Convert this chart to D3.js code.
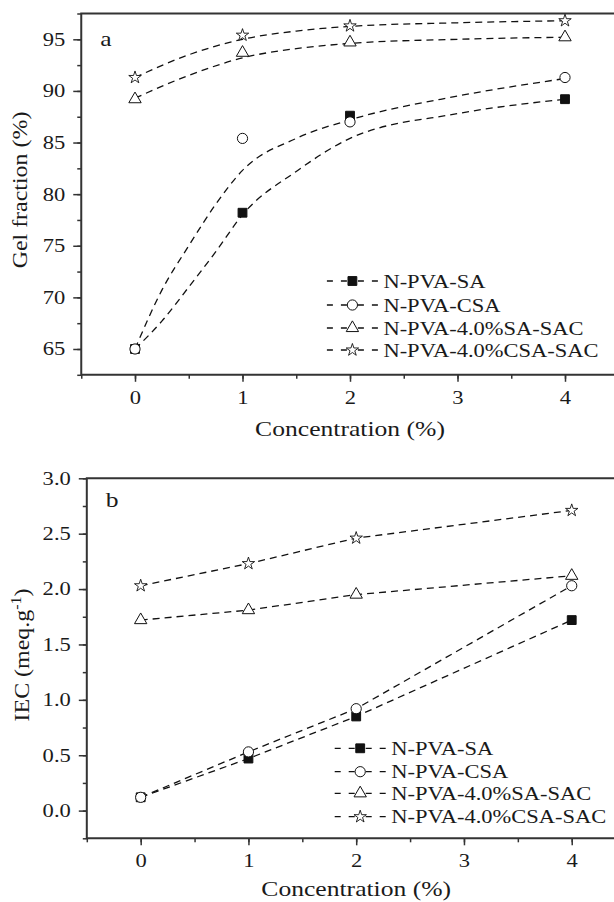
<!DOCTYPE html>
<html lang="en">
<head>
<meta charset="utf-8">
<script src="https://d3js.org/d3.v7.min.js"></script>
<style>
body { margin: 0; background: #fff; }
text { font-family: "Liberation Serif", "Times New Roman", serif; fill: #1a1a1a; }
</style>
</head>
<body>
<script>

// ---- data ----
var concentration = [0, 1, 2, 4];
var seriesNames = ["N-PVA-SA", "N-PVA-CSA", "N-PVA-4.0%SA-SAC", "N-PVA-4.0%CSA-SAC"];
var symbols = ["square", "circle", "triangle", "star"];

// (a) gel fraction, %
var gelSA = [65, 78.2, 87.6, 89.2];
var gelCSA = [65, 85.4, 87.0, 91.3];
var gelSASAC = [89.2, 93.7, 94.7, 95.2];
var gelCSASAC = [91.3, 95.4, 96.3, 96.8];

// (a) dashed fitted curves
var fitXSteep = [0, 0.25, 0.5, 0.75, 1, 1.5, 2, 3, 4];
var fitSA = [65, 67.7, 71.0, 74.4, 78.0, 82.2, 85.4, 87.8, 89.2];
var fitCSA = [65, 70.7, 75.0, 79.0, 82.3, 85.4, 87.2, 89.5, 91.2];
var fitXFlat = [0, 0.5, 1, 1.5, 2, 3, 4];
var fitSASAC = [89.3, 91.5, 93.2, 94.1, 94.6, 95.0, 95.2];
var fitCSASAC = [91.3, 93.5, 95.0, 95.8, 96.25, 96.6, 96.8];

// (b) IEC, meq/g
var iecSA = [0.12, 0.47, 0.85, 1.72];
var iecCSA = [0.12, 0.53, 0.92, 2.03];
var iecSASAC = [1.72, 1.81, 1.95, 2.12];
var iecCSASAC = [2.03, 2.23, 2.46, 2.71];

var gelTicks = [65, 70, 75, 80, 85, 90, 95];
var iecTicks = [0, 0.5, 1, 1.5, 2, 2.5, 3];
var xTicks = [0, 1, 2, 3, 4];

// ---- drawing ----
var svg = d3.select("body")
  .append("svg")
  .attr("width", 614)
  .attr("height", 902);

var ink = "#333";
var sx = 1.22;   // the figure's serif is wider than Liberation Serif

function stretchText(g, x, y, str, size, anchor, stretch) {
  return g.append("text")
    .attr("transform", "translate(" + x + "," + y + ") scale(" + (stretch || sx) + ",1)")
    .attr("text-anchor", anchor || "start")
    .attr("font-size", size)
    .text(str);
}

var markSize = {square: 78, circle: 82, triangle: 66, star: 48};

function drawMarker(g, kind, x, y) {
  var t = {square: d3.symbolSquare, circle: d3.symbolCircle,
           triangle: d3.symbolTriangle, star: d3.symbolStar}[kind];
  g.append("path")
    .attr("d", d3.symbol().type(t).size(markSize[kind])())
    .attr("transform", "translate(" + x + "," + y + ")")
    .attr("fill", kind == "square" ? "#111" : "#fff")
    .attr("stroke", "#111")
    .attr("stroke-width", kind == "star" ? 0.9 : 1);
}

function panel(opt) {
  var x = d3.scaleLinear().domain([-0.5, 4.5]).range(opt.xRange);
  var y = d3.scaleLinear().domain(opt.yDomain).range(opt.yRange);
  var g = svg.append("g");

  // minor ticks
  g.append("g")
    .attr("transform", "translate(0," + opt.yRange[0] + ")")
    .call(d3.axisBottom(x).tickValues(d3.range(-0.5, 4.51, 0.5)).tickSize(4).tickFormat(""))
    .call(function (a) { a.select(".domain").remove(); a.selectAll("line").attr("stroke", ink).attr("stroke-width", 1.5); });
  g.append("g")
    .attr("transform", "translate(" + opt.xRange[0] + ",0)")
    .call(d3.axisLeft(y).tickValues(opt.minor).tickSize(4).tickFormat(""))
    .call(function (a) { a.select(".domain").remove(); a.selectAll("line").attr("stroke", ink).attr("stroke-width", 1.5); });

  // major ticks with labels
  var xa = g.append("g")
    .attr("transform", "translate(0," + opt.yRange[0] + ")")
    .call(d3.axisBottom(x).tickValues(xTicks).tickSize(7).tickPadding(opt.xPad).tickFormat(d3.format("d")));
  var ya = g.append("g")
    .attr("transform", "translate(" + opt.xRange[0] + ",0)")
    .call(d3.axisLeft(y).tickValues(opt.ticks).tickSize(8).tickPadding(8).tickFormat(opt.fmt));
  [xa, ya].forEach(function (a) {
    a.select(".domain").remove();
    a.attr("font-family", null).attr("font-size", 18.5);
    a.selectAll("line").attr("stroke", ink).attr("stroke-width", 1.5);
    a.selectAll("text").attr("fill", "#1a1a1a");
  });
  xa.selectAll("text").attr("transform", "scale(" + sx + ",1)");
  ya.selectAll("text").attr("x", -16 / sx).attr("transform", "scale(" + sx + ",1)");

  // frame: left, bottom and top (right side is cut off by the page)
  g.append("path")
    .attr("d", "M" + 614 + "," + opt.yRange[1] + "H" + opt.xRange[0] + "V" + opt.yRange[0] + "H" + 614)
    .attr("fill", "none").attr("stroke", ink).attr("stroke-width", 2);

  // dashed lines
  var line = d3.line().x(function (d) { return x(d[0]); }).y(function (d) { return y(d[1]); })
    .curve(opt.curve);
  opt.lines.forEach(function (l) {
    g.append("path")
      .attr("d", line(d3.zip(l[0], l[1])))
      .attr("fill", "none").attr("stroke", "#111").attr("stroke-width", 1.3)
      .attr("stroke-dasharray", "7,5");
  });

  // markers
  opt.series.forEach(function (s, i) {
    s.forEach(function (v, j) { drawMarker(g, symbols[i], x(concentration[j]), y(v)); });
  });

  // panel letter and titles
  stretchText(g, x(-0.5) + 19, opt.yRange[1] + opt.letterDy, opt.letter, 21);
  stretchText(g, x(2), opt.titleY, "Concentration (%)", 21, "middle");

  var yt = g.append("text")
    .attr("transform", "translate(" + opt.yTitleX + "," + opt.yTitleY + ") rotate(-90) scale(1.14,1)")
    .attr("text-anchor", "middle")
    .attr("font-size", 21);
  opt.yTitle(yt);

  // legend
  seriesNames.forEach(function (name, i) {
    var ly = opt.legendY[i], mx = opt.legendX;
    [[mx - 25.5, mx - 5.5], [mx + 5.5, mx + 25.5]].forEach(function (seg) {
      g.append("line").attr("x1", seg[0]).attr("x2", seg[1]).attr("y1", ly).attr("y2", ly)
        .attr("stroke", "#111").attr("stroke-width", 1.3).attr("stroke-dasharray", "6,8");
    });
    drawMarker(g, symbols[i], mx, ly);
    stretchText(g, mx + 31, ly + 6.5, name, 18, "start", 1.25);
  });
}

panel({
  xRange: [81.25, 618.75],
  yDomain: [62.5, 97.5], yRange: [374.8, 13.5],
  ticks: gelTicks, minor: d3.range(62.5, 97.6, 2.5), fmt: d3.format("d"),
  xPad: 9,
  curve: d3.curveMonotoneX,
  lines: [[fitXSteep, fitSA], [fitXSteep, fitCSA], [fitXFlat, fitSASAC], [fitXFlat, fitCSASAC]],
  series: [gelSA, gelCSA, gelSASAC, gelCSASAC],
  letter: "a", letterDy: 32,
  titleY: 436,
  yTitleX: 27, yTitleY: 190,
  yTitle: function (t) { t.text("Gel fraction (%)"); },
  legendX: 352.4, legendY: [281, 305, 328, 350]
});

panel({
  xRange: [86.8, 625.6],
  yDomain: [-0.25, 3.0], yRange: [838.3, 478.3],
  ticks: iecTicks, minor: d3.range(-0.25, 3.01, 0.25), fmt: d3.format(".1f"),
  xPad: 8.5,
  curve: d3.curveLinear,
  lines: [[concentration, iecSA], [concentration, iecCSA], [concentration, iecSASAC], [concentration, iecCSASAC]],
  series: [iecSA, iecCSA, iecSASAC, iecCSASAC],
  letter: "b", letterDy: 29,
  titleY: 896,
  yTitleX: 28.5, yTitleY: 655,
  yTitle: function (t) {
    t.append("tspan").text("IEC (meq.g");
    t.append("tspan").attr("font-size", 14).attr("dy", -8).text("-1");
    t.append("tspan").attr("dy", 8).text(")");
  },
  legendX: 360.2, legendY: [748.3, 771.7, 793.3, 816.7]
});

</script>
</body>
</html>
